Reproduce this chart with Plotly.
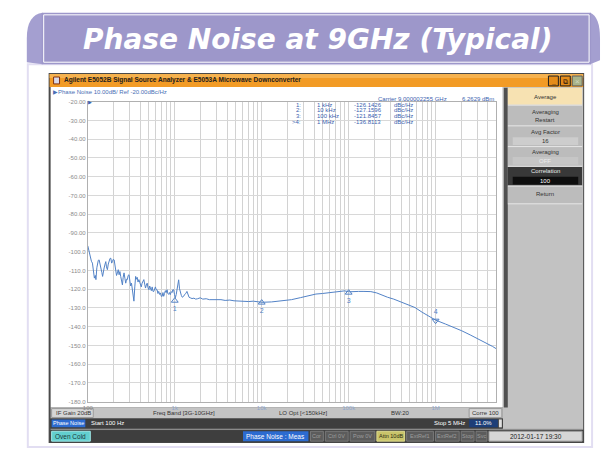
import plotly.graph_objects as go

W, H = 602, 455

# ---------------- data ----------------
freq_hz = [
    100, 103, 107, 110, 113, 116, 119, 122, 124, 127, 129, 132, 135, 138, 141, 145, 148,
    151, 154, 158, 161, 164, 168, 172, 176, 180, 184, 188, 192, 196, 201, 205, 210, 214,
    219, 224, 229, 234, 239, 245, 250, 255, 261, 267, 273, 279, 285, 291, 298, 305, 311,
    318, 325, 332, 339, 347, 355, 362, 370, 378, 387, 395, 404, 412, 421, 431, 441, 451,
    461, 471, 482, 493, 504, 515, 526, 538, 550, 562, 574, 586, 599, 612, 626, 640, 654,
    669, 684, 700, 716, 731, 746, 763, 780, 797, 815, 833, 851, 870, 889, 910, 930, 950,
    971, 993, 1015, 1040, 1060, 1085, 1109, 1135, 1159, 1190, 1220, 1265, 1300, 1340,
    1381, 1420, 1460, 1508, 1580, 1660, 1740, 1830, 1963, 2100, 2300, 2500, 2775, 3000,
    3400, 3800, 4300, 4800, 5600, 6300, 7100, 8000, 8900, 10000, 13000, 17000, 22000,
    28000, 35000, 42000, 50000, 60000, 70000, 80000, 90000, 100000, 110000, 130000,
    150000, 180000, 210000, 240000, 280000, 330000, 380000, 450000, 520000, 580000,
    700000, 850000, 1000000, 1300000, 1600000, 2000000, 2500000, 3000000, 3500000,
    4000000, 4500000, 5000000,
]
phase_noise_dbc = [
    -96.9, -99.6, -102.6, -105.1, -106.1, -110.6, -114.1, -112.7, -114.9, -108.6, -106.1,
    -104.6, -104.4, -106.1, -107.9, -111.1, -113.2, -110.1, -108.7, -106.6, -105.3, -108.1,
    -109.6, -106.6, -104.6, -103.6, -103.5, -106.1, -105.3, -104.1, -104.4, -107.6, -110.5,
    -112.7, -111.3, -109.6, -112.3, -110.6, -113.2, -115.2, -117.7, -113.7, -111.3, -114.2,
    -116.8, -114.7, -114.9, -112.7, -112.3, -115.7, -118.3, -116.8, -119.4, -121.8, -126.4,
    -118.8, -113.2, -114.7, -113.7, -116.2, -114.9, -116.3, -117.7, -118.8, -116.8, -115.3,
    -114.9, -117.3, -119.4, -117.8, -116.8, -119.3, -120.3, -118.3, -119.4, -120.8, -118.8,
    -121.2, -121.2, -119.8, -118.8, -120.3, -120.3, -122.3, -121.2, -122.8, -122.0, -123.8,
    -123.8, -121.8, -123.8, -122.3, -120.8, -121.8, -120.3, -122.3, -122.8, -121.8, -122.9,
    -121.3, -121.8, -120.3, -120.3, -122.8, -124.6, -122.8, -120.8, -116.8, -115.0, -119.8,
    -122.0, -123.3, -124.3, -123.8, -122.8, -122.3, -121.2, -123.3, -124.3, -124.6, -125.0,
    -124.8, -125.3, -125.1, -124.6, -125.3, -125.1, -125.6, -125.5, -125.8, -125.6, -126.0,
    -125.8, -126.2, -126.4, -126.2, -126.6, -126.4, -126.6, -127.0, -126.8, -126.3, -125.6,
    -124.5, -123.4, -122.6, -122.3, -121.9, -121.7, -121.3, -120.9, -121.4, -121.2, -121.2,
    -121.2, -121.3, -122.0, -123.2, -124.3, -125.3, -126.4, -127.8, -128.9, -129.8, -132.3,
    -134.6, -136.5, -138.6, -140.2, -142.2, -144.4, -146.2, -147.6, -149.2, -150.5, -151.8,
]

marker_ids = ["1", "2", "3", "4"]
marker_table_ids = ["1:", "2:", "3:", ">4:"]
marker_freq_hz = [1e3, 1e4, 1e5, 1e6]
marker_freq_label = ["1 kHz", "10 kHz", "100 kHz", "1 MHz"]
marker_dbc = [-126.1426, -127.1596, -121.8457, -136.8113]

y_tick_vals = [-20, -30, -40, -50, -60, -70, -80, -90, -100, -110, -120, -130, -140,
               -150, -160, -170, -180]
y_tick_text = ["-20.00", "-30.00", "-40.00", "-50.00", "-60.00", "-70.00", "-80.00",
               "-90.00", "-100.0", "-110.0", "-120.0", "-130.0", "-140.0", "-150.0",
               "-160.0", "-170.0", "-180.0"]
x_decades = [100, 1000, 10000, 100000, 1000000]
x_decade_text = ["<span style='color:#8a8a8a'>100</span>", "1k", "10k", "100k", "1M"]

title_text = "Phase Noise at 9GHz (Typical)"
window_title = "Agilent E5052B Signal Source Analyzer & E5053A Microwave Downconverter"
trace_header = "\u25B6Phase Noise 10.00dB/ Ref -20.00dBc/Hz"
carrier_text = "Carrier 9.000002255 GHz"
carrier_power = "6.2629 dBm"

# ---------------- helpers ----------------
UI = "Liberation Sans"


def px(x):
    return x / W


def py(y):
    return 1 - y / H


shapes = []
annotations = []


def rect(x0, y0, x1, y1, fill, line=None, lw=1):
    shapes.append(dict(type="rect", xref="paper", yref="paper", layer="below",
                       x0=px(x0), x1=px(x1), y0=py(y1), y1=py(y0), fillcolor=fill,
                       line=dict(color=line if line else "rgba(0,0,0,0)",
                                 width=lw if line else 0)))


def hline(x0, x1, y, color, lw=1):
    shapes.append(dict(type="line", xref="paper", yref="paper", layer="below",
                       x0=px(x0), x1=px(x1), y0=py(y), y1=py(y),
                       line=dict(color=color, width=lw)))


def txt(x, y, s, size=6, color="#333333", anchor="left", family=UI):
    annotations.append(dict(xref="paper", yref="paper", x=px(x), y=py(y), text=s,
                            showarrow=False, xanchor=anchor, yanchor="middle",
                            font=dict(size=size, color=color, family=family)))


# ---------------- page decoration / banner ----------------
rect(23, 62, 592, 450, "rgba(0,0,0,0)", "#e2def2", 2)
shapes.append(dict(type="path", xref="paper", yref="paper", layer="below",
                   path=f"M {px(38)} {py(10)} Q {px(22)} {py(12)} {px(22)} {py(36)} "
                        f"L {px(22)} {py(60)} L {px(38)} {py(62)} Z",
                   fillcolor="#a49fd0", line=dict(width=0)))
shapes.append(dict(type="path", xref="paper", yref="paper", layer="below",
                   path=f"M {px(590)} {py(10)} Q {px(600)} {py(14)} {px(600)} {py(36)} "
                        f"L {px(600)} {py(58)} L {px(590)} {py(62)} Z",
                   fillcolor="#a49fd0", line=dict(width=0)))
rect(37, 10, 591, 62, "#9d97ca")
rect(39, 12, 589, 60, "rgba(0,0,0,0)", "#ffffff", 1)
txt(315, 37, f"<b><i>{title_text}</i></b>", size=28, color="#ffffff",
    anchor="center", family="DejaVu Sans")

# ---------------- window ----------------
rect(44, 71, 584, 446, "#4a4a4a")
rect(45, 72, 583, 85, "#f29b25")
rect(45, 72, 583, 76, "#f6b24e")
rect(49, 75, 55, 82, "#d8d8e8", "#803010", 1)
txt(57, 78.5, f"<b>{window_title}</b>", size=6.5, color="#222222")
rect(548, 74, 558, 84, "#e48c1a", "#202020", 1)
rect(560, 74, 570, 84, "#e48c1a", "#202020", 1)
rect(572, 74, 582, 84, "#a9b48a", "#606060", 1)
txt(553, 79.5, "<b>_</b>", size=7, color="#111111", anchor="center")
txt(565, 79.5, "\u29C9", size=7, color="#111111", anchor="center")
txt(577, 79.5, "\u00D7", size=8, color="#d0d8c0", anchor="center")

# client area
rect(46, 85, 502, 410, "#ffffff")
txt(46, 90.5, trace_header, size=6, color="#4a6fb5")

# softkey panel
rect(502, 85, 583, 432, "#c2c2c2")
rect(503, 86, 507, 410, "#505050")
rect(507, 86, 582, 103, "#f7e2b2")
txt(545, 95, "Average", size=6, color="#333333", anchor="center")
rect(507, 104, 582, 124, "#bcbcbc")
txt(545, 110.5, "Averaging", size=6, color="#333333", anchor="center")
txt(545, 118.5, "Restart", size=6, color="#333333", anchor="center")
rect(507, 125, 582, 145, "#bcbcbc")
txt(545, 130.5, "Avg Factor", size=6, color="#333333", anchor="center")
rect(512, 136, 578, 144, "#cdcdcd")
txt(545, 140, "16", size=6, color="#333333", anchor="center")
rect(507, 146, 582, 165, "#bcbcbc")
txt(545, 150.5, "Averaging", size=6, color="#333333", anchor="center")
rect(512, 156, 578, 164, "#c6c6c6")
txt(545, 160, "OFF", size=6, color="#ececec", anchor="center")
rect(507, 166, 582, 185, "#383838")
txt(545, 170.5, "Correlation", size=6, color="#e8e8e8", anchor="center")
rect(512, 176, 578, 184, "#0e0e0e")
txt(545, 180, "100", size=6, color="#ffffff", anchor="center")
rect(507, 186, 582, 203, "#bcbcbc")
txt(545, 194, "Return", size=6, color="#333333", anchor="center")
for yy in (103.5, 124.5, 145.5, 165.5, 185.5, 203.5):
    hline(507, 582, yy, "#e6e6e6", 1)

# status row 1
rect(46, 410, 502, 421, "#c4c4c4")
rect(47, 411, 89, 420, "#d6d6d6", "#9a9a9a", 1)
txt(49, 415.5, "IF Gain 20dB", size=6, color="#333333")
txt(181, 415.5, "Freq Band [3G-10GHz]", size=6, color="#333333", anchor="center")
txt(301, 415.5, "LO Opt [&lt;150kHz]", size=6, color="#333333", anchor="center")
txt(399, 415.5, "BW:20", size=6, color="#333333", anchor="center")
rect(468, 411, 501, 420, "#d6d6d6", "#9a9a9a", 1)
txt(485, 415.5, "Corre 100", size=6, color="#333333", anchor="center")

# status row 2
rect(46, 421, 502, 431, "#3e3e3e")
rect(47, 422, 81, 430, "#2c6bd0")
txt(64, 426, "Phase Noise", size=5.5, color="#ffffff", anchor="center")
txt(85, 426, "Start 100 Hz", size=6, color="#ffffff")
txt(466, 426, "Stop 5 MHz", size=6, color="#ffffff", anchor="right")
rect(468, 422, 497, 430, "#1d3e78")
txt(482.5, 426, "11.0%", size=6, color="#ffffff", anchor="center")
rect(498, 422, 501, 430, "#e0e0e0")
hline(46, 583, 432, "#9a9a9a", 1)

# status row 3
rect(46, 433, 583, 445, "#3e3e3e")
rect(47, 434, 86, 444, "#62cfcf", "#a0e8e8", 1)
txt(66.5, 439, "Oven Cold", size=6.5, color="#1a3a3a", anchor="center")
rect(240, 434, 306, 444, "#2c6bd0")
txt(273, 439, "Phase Noise : Meas", size=6.5, color="#ffffff", anchor="center")
chips = [(308, 321, "Cor"), (323, 346, "Ctrl 0V"), (348, 373, "Pow 0V"),
         (405, 432, "ExtRef1"), (434, 458, "ExtRef2"), (460, 473, "Stop"),
         (475, 486, "Svc")]
for a, b, s in chips:
    rect(a, 434, b, 444, "#5c5c5c", "#7a7a7a", 1)
    txt((a + b) / 2, 439, s, size=5.5, color="#9c9c9c", anchor="center")
rect(375, 434, 403, 444, "#c9c46a", "#e0dc90", 1)
txt(389, 439, "Attn 10dB", size=5.5, color="#2a2a10", anchor="center")
rect(488, 434, 582, 444, "#d6d6d6", "#9a9a9a", 1)
txt(535, 439, "2012-01-17 19:30", size=6.5, color="#222222", anchor="center")

# carrier / marker table
txt(448, 97, carrier_text, size=6, color="#3a5fb0", anchor="right")
txt(495, 97, carrier_power, size=6, color="#3a5fb0", anchor="right")
row_y = [103, 108.8, 114.5, 120.2]
for i in range(4):
    txt(300, row_y[i], marker_table_ids[i], size=6, color="#3a5fb0", anchor="right")
    txt(313, row_y[i], marker_freq_label[i], size=6, color="#3a5fb0")
    txt(350, row_y[i], f"{marker_dbc[i]:.4f}", size=6, color="#3a5fb0")
    txt(390, row_y[i], "dBc/Hz", size=6, color="#3a5fb0")

# ---------------- chart ----------------
x_grid = [m * 10 ** e for e in range(2, 7) for m in range(1, 10) if m * 10 ** e <= 5e6]
x_text = [x_decade_text[x_decades.index(v)] if v in x_decades else "" for v in x_grid]

fig = go.Figure()
fig.add_trace(go.Scatter(x=freq_hz, y=phase_noise_dbc, mode="lines",
                         line=dict(color="#5282c6", width=1), hoverinfo="skip"))
fig.add_trace(go.Scatter(x=marker_freq_hz[:3], y=marker_dbc[:3], mode="markers+text",
                         marker=dict(symbol="triangle-up-open", size=6, color="#5282c6",
                                     line=dict(width=1)),
                         text=marker_ids[:3], textposition="bottom center",
                         textfont=dict(size=7, color="#5282c6", family=UI)))
fig.add_trace(go.Scatter(x=marker_freq_hz[3:], y=marker_dbc[3:], mode="markers+text",
                         marker=dict(symbol="triangle-down-open", size=6, color="#5282c6",
                                     line=dict(width=1)),
                         text=marker_ids[3:], textposition="top center",
                         textfont=dict(size=7, color="#5282c6", family=UI)))
fig.add_trace(go.Scatter(x=marker_freq_hz[3:], y=[-181.2], mode="markers",
                         cliponaxis=False,
                         marker=dict(symbol="triangle-up", size=6, color="#3a6fc0")))

annotations.append(dict(xref="paper", yref="y", x=px(86), y=-20, text="\u25B6",
                        showarrow=False, xanchor="center", yanchor="middle",
                        font=dict(size=5, color="#3a5fb0", family="DejaVu Sans")))

fig.update_layout(
    width=W, height=H, margin=dict(l=0, r=0, t=0, b=0),
    paper_bgcolor="#ffffff", plot_bgcolor="rgba(0,0,0,0)",
    showlegend=False, shapes=shapes, annotations=annotations,
    xaxis=dict(type="log", range=[2, 6.69897], domain=[px(83.5), px(495.5)],
               tickvals=x_grid, ticktext=x_text, showgrid=True, gridcolor="#d2d2d2",
               gridwidth=1, showline=True, linecolor="#b0b0b0", mirror=True,
               ticks="", zeroline=False, tickangle=0,
               tickfont=dict(size=6, color="#8fa6cc", family=UI)),
    yaxis=dict(range=[-180, -20], domain=[py(404), py(100)], tickvals=y_tick_vals,
               ticktext=y_tick_text, showgrid=True, gridcolor="#d8d8d8", gridwidth=1,
               showline=True, linecolor="#b0b0b0", mirror=True, ticks="",
               zeroline=False, tickfont=dict(size=6, color="#8a8a8a", family=UI)),
)

fig.write_html("out.html", config={"displayModeBar": False},
               post_script="document.body.style.margin='0';"
                           "document.body.style.overflow='hidden';")
